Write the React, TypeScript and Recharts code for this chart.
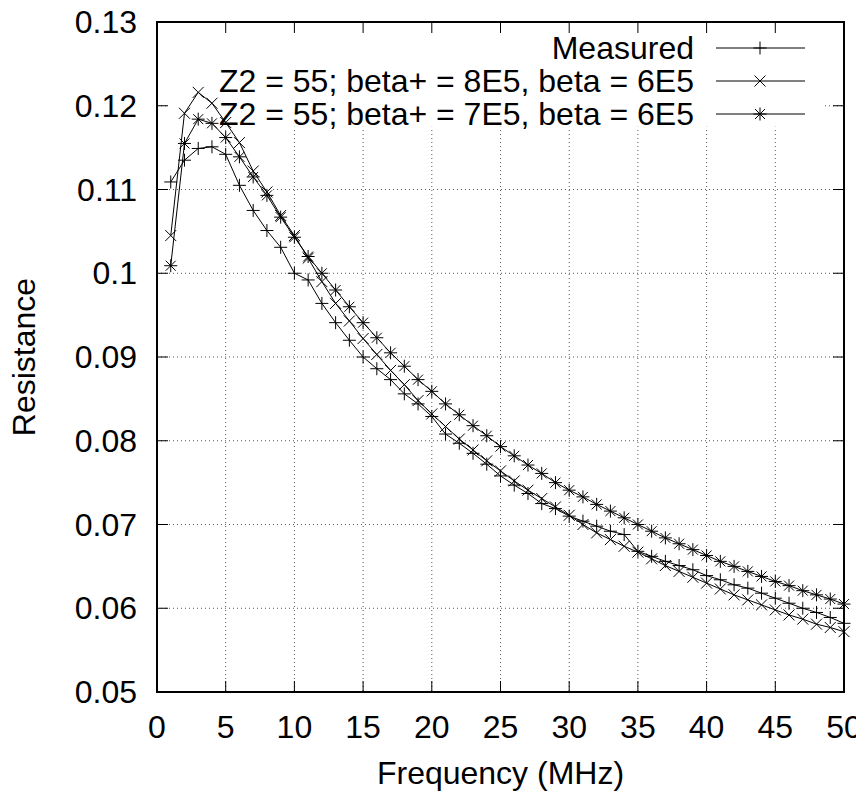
import React from "react";
import { LineChart, Line, XAxis, YAxis, CartesianGrid, ReferenceArea } from "recharts";

const frequencies = [
  1, 2, 3, 4, 5, 6, 7, 8, 9, 10, 11, 12, 13, 14, 15, 16, 17, 18, 19, 20, 21, 22, 23, 24, 25,
  26, 27, 28, 29, 30, 31, 32, 33, 34, 35, 36, 37, 38, 39, 40, 41, 42, 43, 44, 45, 46, 47, 48, 49, 50,
];

const measured = [
  0.1109, 0.1135, 0.1149, 0.1151, 0.1142, 0.1105, 0.1075, 0.1051, 0.1031, 0.1, 0.0992, 0.0964,
  0.0941, 0.092, 0.09, 0.0886, 0.0873, 0.0856, 0.0844, 0.0829, 0.0808, 0.0797, 0.0785, 0.0772,
  0.0758, 0.0747, 0.0737, 0.0725, 0.0719, 0.071, 0.0704, 0.0698, 0.0692, 0.0688, 0.0668, 0.0662,
  0.0656, 0.0651, 0.0646, 0.0639, 0.0634, 0.0628, 0.0624, 0.0618, 0.0612, 0.0606, 0.06, 0.0595,
  0.0589, 0.0582,
];

const fitBeta8E5 = [
  0.1045, 0.1191, 0.1216, 0.1203, 0.118, 0.1156, 0.1122, 0.1097, 0.1069, 0.1045, 0.1018, 0.099,
  0.0964, 0.0943, 0.0922, 0.0903, 0.0884, 0.0867, 0.0848, 0.0832, 0.0817, 0.0802, 0.0789, 0.0776,
  0.0764, 0.0752, 0.0741, 0.0731, 0.0721, 0.0711, 0.07, 0.069, 0.0682, 0.0674, 0.0667, 0.0659,
  0.0651, 0.0644, 0.0637, 0.063, 0.0623, 0.0616, 0.061, 0.0604, 0.0598, 0.0592, 0.0587, 0.0581,
  0.0577, 0.0572,
];

const fitBeta7E5 = [
  0.1009, 0.1155, 0.1184, 0.1179, 0.1162, 0.1139, 0.1115, 0.1093, 0.1067, 0.1043, 0.102, 0.1,
  0.098, 0.096, 0.0941, 0.0923, 0.0905, 0.0889, 0.0873, 0.0859, 0.0844, 0.0831, 0.0818, 0.0806,
  0.0793, 0.0782, 0.0771, 0.0761, 0.075, 0.0741, 0.0733, 0.0724, 0.0716, 0.0708, 0.07, 0.0692,
  0.0684, 0.0677, 0.067, 0.0663, 0.0656, 0.065, 0.0644, 0.0638, 0.0632, 0.0627, 0.0621, 0.0616,
  0.0611, 0.0605,
];

const xTicks = [0, 5, 10, 15, 20, 25, 30, 35, 40, 45, 50];
const yTicks = [0.05, 0.06, 0.07, 0.08, 0.09, 0.1, 0.11, 0.12, 0.13];
const yTickLabels = ["0.05", "0.06", "0.07", "0.08", "0.09", "0.1", "0.11", "0.12", "0.13"];

const seriesNames = [
  "Measured",
  "Z2 = 55; beta+ = 8E5, beta = 6E5",
  "Z2 = 55; beta+ = 7E5, beta = 6E5",
];

const data = frequencies.map((f, i) => ({
  f,
  measured: measured[i],
  fit8: fitBeta8E5[i],
  fit7: fitBeta7E5[i],
}));

const W = 856;
const H = 787;
const PL = 149;
const PR = 836;
const PT = 14;
const PB = 684;
const TICK = 11;
const FONT = "'Liberation Sans', Arial, sans-serif";
const FS = 32;

const Plus = ({ cx, cy }: { cx: number; cy: number }) => (
  <g stroke="#000" strokeWidth={1}>
    <line x1={cx - 6.5} y1={cy} x2={cx + 6.5} y2={cy} />
    <line x1={cx} y1={cy - 6.5} x2={cx} y2={cy + 6.5} />
  </g>
);
const Cross = ({ cx, cy }: { cx: number; cy: number }) => (
  <g stroke="#000" strokeWidth={1}>
    <line x1={cx - 5.5} y1={cy - 5.5} x2={cx + 5.5} y2={cy + 5.5} />
    <line x1={cx - 5.5} y1={cy + 5.5} x2={cx + 5.5} y2={cy - 5.5} />
  </g>
);
const Star = ({ cx, cy }: { cx: number; cy: number }) => (
  <g stroke="#000" strokeWidth={1}>
    <line x1={cx - 6.5} y1={cy} x2={cx + 6.5} y2={cy} />
    <line x1={cx} y1={cy - 6.5} x2={cx} y2={cy + 6.5} />
    <line x1={cx - 5} y1={cy - 5} x2={cx + 5} y2={cy + 5} />
    <line x1={cx - 5} y1={cy + 5} x2={cx + 5} y2={cy - 5} />
  </g>
);

const XTick = (props: any) => {
  const { x, payload } = props;
  return (
    <g>
      <line x1={x} x2={x} y1={PB} y2={PB - TICK} stroke="#000" strokeWidth={1} />
      <line x1={x} x2={x} y1={PT} y2={PT + TICK} stroke="#000" strokeWidth={1} />
      <text x={x} y={730} textAnchor="middle" fontFamily={FONT} fontSize={FS} fill="#000">
        {String(payload.value)}
      </text>
    </g>
  );
};

const YTick = (props: any) => {
  const { y, payload, index } = props;
  return (
    <g>
      <line x1={PL} x2={PL + TICK} y1={y} y2={y} stroke="#000" strokeWidth={1} />
      <line x1={PR - TICK} x2={PR} y1={y} y2={y} stroke="#000" strokeWidth={1} />
      <text x={129} y={y + 11} textAnchor="end" fontFamily={FONT} fontSize={FS} fill="#000">
        {yTickLabels[index] ?? String(payload.value)}
      </text>
    </g>
  );
};

const markers = [Plus, Cross, Star];

export default function App() {
  return (
    <div style={{ position: "relative", width: W, height: H, background: "#fff" }}>
      <style>{`svg { overflow: visible; }`}</style>
      <LineChart
        width={W}
        height={H}
        data={data}
        margin={{ top: PT, right: W - PR, bottom: 0, left: 0 }}
      >
        <CartesianGrid stroke="#555" strokeDasharray="1 3" strokeWidth={1} />
        <ReferenceArea
          x1={0.87}
          x2={48.4}
          y1={0.1175}
          y2={0.13}
          fill="#fff"
          fillOpacity={1}
          stroke="none"
          isFront={false}
        />
        <XAxis
          dataKey="f"
          type="number"
          domain={[0, 50]}
          ticks={xTicks}
          height={H - PB}
          axisLine={false}
          tickLine={false}
          tick={XTick}
          interval={0}
        />
        <YAxis
          type="number"
          domain={[0.05, 0.13]}
          ticks={yTicks}
          width={PL}
          axisLine={false}
          tickLine={false}
          tick={YTick}
          interval={0}
        />
        <Line
          dataKey="measured"
          stroke="#000"
          strokeWidth={1}
          isAnimationActive={false}
          activeDot={false}
          dot={(p: any) => <Plus key={`m${p.index}`} cx={p.cx} cy={p.cy} />}
        />
        <Line
          dataKey="fit8"
          stroke="#000"
          strokeWidth={1}
          isAnimationActive={false}
          activeDot={false}
          dot={(p: any) => <Cross key={`a${p.index}`} cx={p.cx} cy={p.cy} />}
        />
        <Line
          dataKey="fit7"
          stroke="#000"
          strokeWidth={1}
          isAnimationActive={false}
          activeDot={false}
          dot={(p: any) => <Star key={`b${p.index}`} cx={p.cx} cy={p.cy} />}
        />
        <ReferenceArea
          x1={0}
          x2={50}
          y1={0.05}
          y2={0.13}
          fill="none"
          stroke="#000"
          strokeWidth={2}
          isFront={true}
        />
      </LineChart>
      <svg
        width={W}
        height={H}
        style={{ position: "absolute", left: 0, top: 0, pointerEvents: "none" }}
      >
        {seriesNames.map((name, i) => {
          const y = 40 + i * 33;
          const M = markers[i];
          return (
            <g key={name}>
              <text x={686} y={y + 11} textAnchor="end" fontFamily={FONT} fontSize={FS} fill="#000">
                {name}
              </text>
              <line x1={708} x2={797} y1={y} y2={y} stroke="#000" strokeWidth={1} />
              <M cx={752} cy={y} />
            </g>
          );
        })}
        <text x={492.5} y={776} textAnchor="middle" fontFamily={FONT} fontSize={FS} fill="#000">
          Frequency (MHz)
        </text>
        <text
          x={27}
          y={349}
          textAnchor="middle"
          fontFamily={FONT}
          fontSize={FS}
          fill="#000"
          transform="rotate(-90 27 349)"
        >
          Resistance
        </text>
      </svg>
    </div>
  );
}
